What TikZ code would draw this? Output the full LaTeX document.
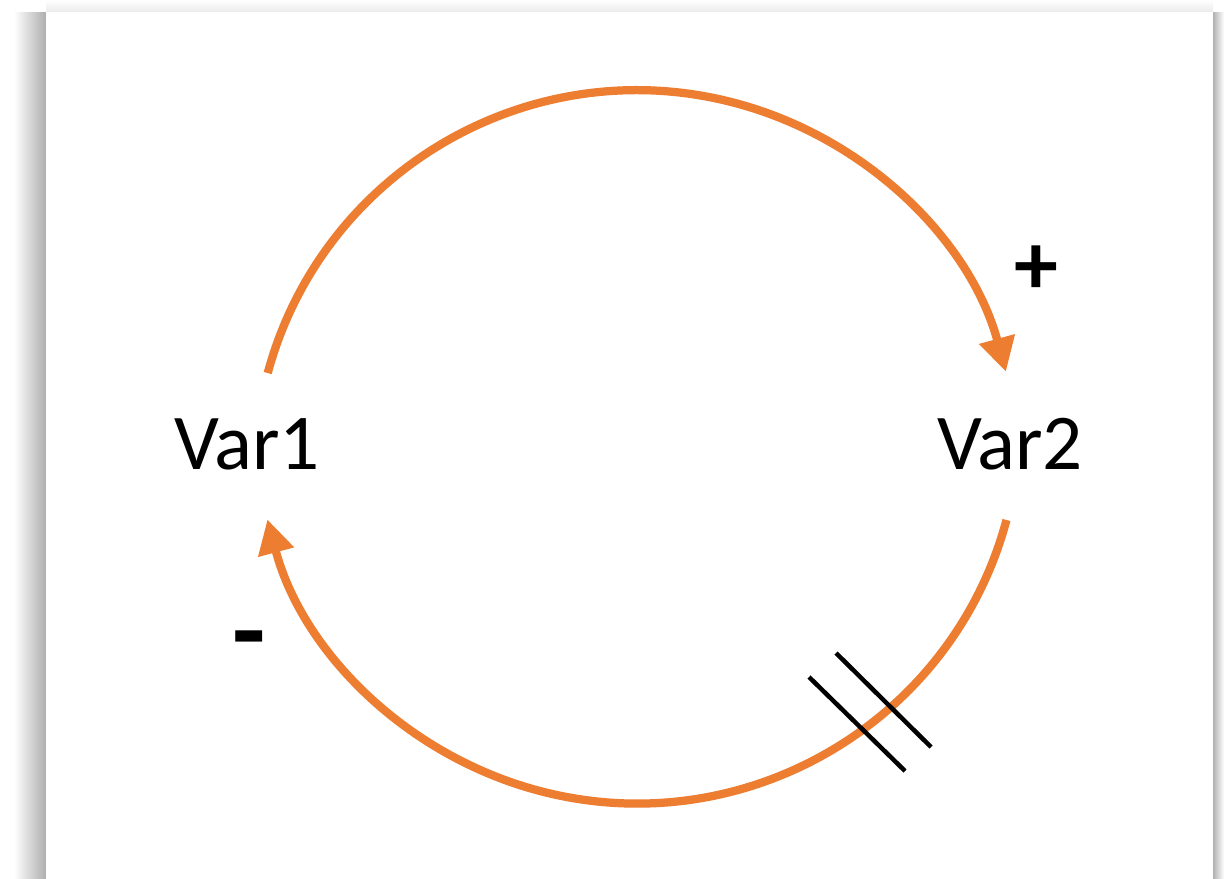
\documentclass[tikz,border=0pt]{standalone}
\usepackage{fontspec}
\setmainfont{Carlito}
\usepackage{xcolor}
\usetikzlibrary{arrows.meta,positioning,calc}
\definecolor{loopor}{HTML}{ED7D31}

\begin{document}
\begin{tikzpicture}[x=0.02cm, y=0.02cm,
    var/.style={inner sep=0pt, font=\fontsize{45}{54}\selectfont},
    sgn/.style={inner sep=0pt, font=\bfseries\fontsize{50}{60}\selectfont},
    flow/.style={loopor, line width=0.165cm, -{Triangle[length=0.68cm, width=0.7cm]}},
    delay/.style={black, line width=0.09cm},
]
\useasboundingbox (0,0) rectangle (1224,-879);
\shade[left color=white, right color=black!32] (14,-12) rectangle (46,-879);
\shade[left color=black!30, right color=white] (1213,-12) rectangle (1224,-879);
\shade[top color=white, bottom color=black!8] (46,0) rectangle (1213,-12);
\fill[white] (46,-12) rectangle (1213,-879);

\coordinate (ctrA) at (637,-472.7);
\coordinate (ctrB) at (637,-421);
\node[var] (var1) at (247,-444) {Var1};
\node[var] (var2) at (1010,-444) {Var2};
\node[sgn] (plus) at (1036,-270) {+};
\node[sgn, font=\bfseries\fontsize{62}{70}\selectfont] (minus) at (249,-649) {-};

\draw[flow] ([shift={(164.9:382.5)}]ctrA) arc[start angle=164.9, end angle=15.3, radius=382.5];
\draw[flow] ([shift={(-15:382.5)}]ctrB) arc[start angle=-15, end angle=-165.1, radius=382.5];

\coordinate (d1a) at (809,-677); \coordinate (d1b) at (905,-771);
\coordinate (d2a) at (836,-653); \coordinate (d2b) at (931,-747);
\draw[delay] (d1a) -- (d1b);
\draw[delay] (d2a) -- (d2b);
\end{tikzpicture}
\end{document}
